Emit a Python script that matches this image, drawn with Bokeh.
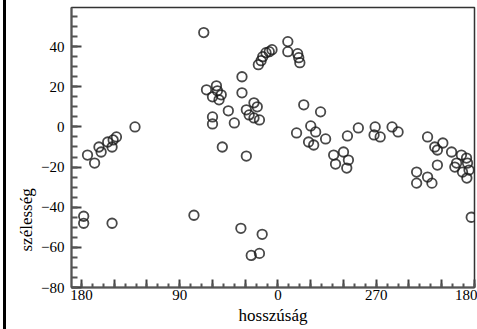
from bokeh.plotting import figure
from bokeh.models import FixedTicker, ColumnDataSource, Title
from bokeh.embed import file_html
from bokeh.resources import INLINE

# Galactic longitude (deg) and latitude (deg)
lon = [174.5, 168, 164, 162, 156, 152, 151, 148, 131, 178, 178, 152, 77, 34, 14.5, 24.5, 17, 68,
       65.5, 56.4, 55.5, 52, 60, 54, 60, 60, 51, 45.5, 40, 33, 33, 29, 26.4, 22, 19, 22, 17, 29,
       18, 15.5, 14, 11, 8, 5.5, 351, 351, 342, 341, 340,
       336.4, 321, 330, 343, 325.5, 332, 327.3, 316.4, 309, 300, 295.5, 307.3, 297, 296.4, 286.4,
       271, 272, 266.4, 255.5, 250,
       223, 216.4, 209, 214, 201, 192, 187.3, 196.4, 186.4, 214, 198, 187, 233, 233, 223, 219,
       183, 185, 191]
lat = [-14, -18, -10, -12.5, -7.5, -10, -6.5, -5, 0, -44.5, -48, -48, -44, -50.5, -53.5, -64, -63, 47,
       18.5, 20.5, 18, 16, 15, 13.5, 5, 1.5, -10, 8, 2, 25, 17, 8.5, 6, 12, 10, 4.5, 3.5, -14.5,
       31, 33, 35, 37, 37.5, 38.5, 42.5, 37.5, 36.5, 34.5, 32,
       11, 7.5, 0.5, -3, -2.5, -7.5, -9, -6, -14, -12.5, -16.5, -18.5, -20.5, -4.5, -0.5,
       0, -4, -5, 0, -2.5,
       -5, -10, -8, -11.5, -12.5, -14, -15.5, -18, -18, -19, -20, -25.5, -22.5, -28, -25, -28,
       -45, -21.5, -22.5]

# x-axis: longitude runs 180 -> 90 -> 0 -> 270 -> 180
xtick_pos = [0, 90, 180, 270, 360]
xtick_labels = ["180", "90", "0", "270", "180"]
ytick_vals = [-80, -60, -40, -20, 0, 20, 40]
x_title = "hosszúság"
y_title = "szélesség"


def to_u(l):
    return (180 - l) % 360


u = [to_u(l) for l in lon]
src = ColumnDataSource(dict(u=u, lat=lat))

FONT = "Liberation Serif"

p = figure(frame_width=403, frame_height=280, output_backend="svg", toolbar_location=None,
           x_range=(-9.16, 360), y_range=(-80, 59.5),
           min_border_left=65, min_border_right=3, min_border_top=7, min_border_bottom=42)
p.styles = {"margin-left": "6px", "box-shadow": "-3px 0px 0px 0px black"}

p.xgrid.visible = False
p.ygrid.visible = False
p.outline_line_color = "#333333"
p.outline_line_width = 1.5

p.scatter(x="u", y="lat", source=src, marker="circle", size=9.5,
          fill_color=None, line_color="#1a1a1a", line_width=1.8, line_alpha=0.8)

# x axis
overrides = {t: "" for t in range(0, 361, 30)}
for pos, lab in zip(xtick_pos, xtick_labels):
    overrides[pos] = lab
p.xaxis.ticker = FixedTicker(ticks=list(range(0, 361, 30)), minor_ticks=list(range(-10, 361, 10)))
p.xaxis.major_label_overrides = overrides
p.xaxis.major_tick_in = 8
p.xaxis.major_tick_out = 0
p.xaxis.minor_tick_in = 4
p.xaxis.minor_tick_out = 0
p.xaxis.major_label_standoff = 2
p.xaxis.axis_label = x_title
p.xaxis.axis_label_standoff = 3

# y axis
p.yaxis.ticker = FixedTicker(ticks=ytick_vals, minor_ticks=list(range(-80, 60, 5)))
p.yaxis.major_tick_in = 10
p.yaxis.major_tick_out = 0
p.yaxis.minor_tick_in = 6
p.yaxis.minor_tick_out = 0
p.yaxis.major_label_standoff = 7

for ax in (p.xaxis, p.yaxis):
    ax.axis_line_color = "#555555"
    ax.axis_line_width = 2
    ax.major_tick_line_color = "#444444"
    ax.minor_tick_line_color = "#555555"
    ax.major_tick_line_width = 2
    ax.minor_tick_line_width = 2
    ax.major_label_text_font = FONT
    ax.major_label_text_font_size = "15px"
    ax.major_label_text_color = "black"
    ax.axis_label_text_font = FONT
    ax.axis_label_text_font_size = "17px"
    ax.axis_label_text_font_style = "normal"
    ax.axis_label_text_color = "black"

# y title, placed lower than the frame centre as in the original
p.add_layout(Title(text=y_title, align="left", offset=36, text_font=FONT,
                   text_font_size="17px", text_font_style="normal", text_color="black",
                   standoff=6), "left")

open("out.html", "w").write(file_html(p, INLINE))
